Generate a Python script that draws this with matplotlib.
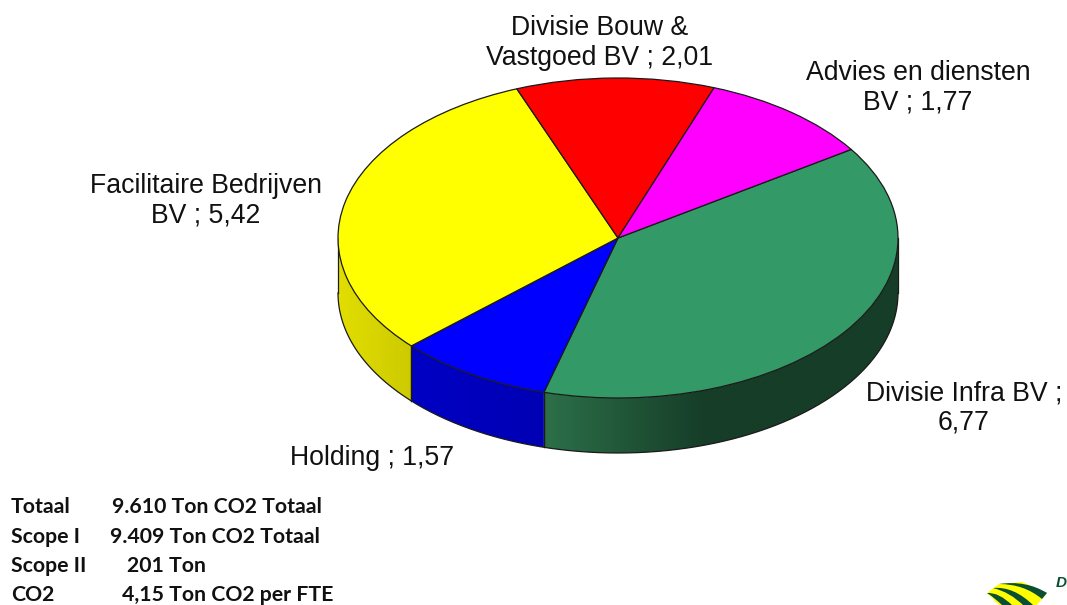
import numpy as np
import matplotlib
matplotlib.use("Agg")
import matplotlib.pyplot as plt
from matplotlib.patches import Polygon, PathPatch
from matplotlib.path import Path

W, H = 1067, 605
CX, CY, RX, RY, DEPTH = 618, 238, 280, 160, 55

names = ["Divisie Infra BV", "Holding", "Facilitaire Bedrijven",
         "Divisie Bouw & Vastgoed BV", "Advies en diensten BV"]
values = [6.77, 1.57, 5.42, 2.01, 1.77]
top_colors = ["#339966", "#0000ff", "#ffff00", "#ff0000", "#ff00ff"]
wall_left = ["#2c7049", "#0000c4", "#e2de00", "#a00000", "#a000a0"]
wall_right = ["#163d28", "#0000b4", "#cdca00", "#a00000", "#a000a0"]
wall_ramp = [0.45, 1.0, 1.0, 1.0, 1.0]
start_angle = 33.6

labels = [("Divisie Infra BV ;\n6,77", 964, 408),
          ("Holding ; 1,57", 372, 458),
          ("Facilitaire Bedrijven\nBV ; 5,42", 206, 201),
          ("Divisie Bouw &\nVastgoed BV ; 2,01", 600, 43),
          ("Advies en diensten\nBV ; 1,77", 918, 88)]

summary_rows = [("Totaal", "9.610 Ton CO2 Totaal", 112),
                ("Scope I", "9.409 Ton CO2 Totaal", 110),
                ("Scope II", "201 Ton", 127),
                ("CO2", "4,15 Ton CO2 per FTE", 122)]
summary_y = [507, 537, 566, 595]


def px(x):
    return (np.asarray(x, float) - CX) / RX


def py(y):
    return (CY - np.asarray(y, float)) / RY


plt.rcParams["font.family"] = ["Liberation Sans", "DejaVu Sans"]
fig = plt.figure(figsize=(W / 100, H / 100), dpi=100, facecolor="white")
ax = fig.add_axes([0, 0, 1, 1])

# Top face of the disc, flattened into an ellipse by the free aspect ratio
ax.pie(values, colors=top_colors, startangle=start_angle, counterclock=False,
       radius=1, center=(0, 0),
       wedgeprops=dict(edgecolor="#1a1a1a", linewidth=0.9, zorder=5))

# Side wall: each visible wedge gets a horizontal gradient clipped to its strip
depth = DEPTH / RY
fractions = np.array(values) / sum(values)
edges = start_angle - np.concatenate([[0], np.cumsum(fractions) * 360])
rim = np.radians(np.linspace(180, 360, 361))

for a0, a1, c0, c1, ramp in zip(edges[:-1], edges[1:], wall_left, wall_right, wall_ramp):
    hi, lo = a0 % 360, a1 % 360
    if hi <= lo:
        hi += 360
    lo_v, hi_v = max(lo, 180), min(hi, 360)
    if lo_v >= hi_v:
        continue
    theta = np.radians(np.linspace(lo_v, hi_v, 200))
    upper = np.c_[np.cos(theta), np.sin(theta)]
    lower = np.c_[np.cos(theta), np.sin(theta) - depth][::-1]
    outline = Polygon(np.r_[upper, lower], closed=True, facecolor="none",
                      edgecolor="none", transform=ax.transData)
    ax.add_patch(outline)
    x0, x1 = upper[:, 0].min(), upper[:, 0].max()
    y0, y1 = lower[:, 1].min(), upper[:, 1].max()
    mix = np.clip(np.linspace(0, 1, 256) / ramp, 0, 1)[:, None]
    rgb0 = np.array(matplotlib.colors.to_rgb(c0))
    rgb1 = np.array(matplotlib.colors.to_rgb(c1))
    gradient = (rgb0 + (rgb1 - rgb0) * mix)[None, :, :]
    img = ax.imshow(gradient, extent=(x0, x1, y0, y1), origin="lower",
                    aspect="auto", interpolation="bilinear", zorder=2)
    img.set_clip_path(outline)
    # dividing line down the wall where a wedge ends
    for ang in (lo, hi % 360):
        if 180 < ang < 360:
            t = np.radians(ang)
            ax.plot([np.cos(t)] * 2, [np.sin(t), np.sin(t) - depth],
                    color="#1a1a1a", lw=0.9, zorder=3)

ax.plot(np.cos(rim), np.sin(rim) - depth, color="#1a1a1a", lw=0.9, zorder=3)
ax.plot([-1, -1], [0, -depth], color="#1a1a1a", lw=0.9, zorder=3)
ax.plot([1, 1], [0, -depth], color="#1a1a1a", lw=0.9, zorder=3)

ax.set_aspect("auto")
ax.set_xlim(px(0), px(W))
ax.set_ylim(py(H), py(0))
ax.axis("off")

for text, x, y in labels:
    ax.text(px(x), py(y), text, ha="center", va="center", fontsize=19.2,
            color="#111111", linespacing=1.18, zorder=6)

for (head, body, x), y in zip(summary_rows, summary_y):
    ax.text(px(11), py(y), head, ha="left", va="center", fontsize=15.3,
            fontweight="bold", family="Lato", color="#111111")
    ax.text(px(x), py(y), body, ha="left", va="center", fontsize=15.3,
            fontweight="bold", family="Lato", color="#111111")

# Company mark in the lower right corner, cut off by the page edge
GREEN = "#0b4f33"
YELLOW = "#ffff00"


def crescent(a, ctrl_out, b, c, ctrl_back):
    pts = [a, ctrl_out, b, c, ctrl_back, a]
    codes = [Path.MOVETO, Path.CURVE3, Path.CURVE3, Path.LINETO, Path.CURVE3, Path.CURVE3]
    return Path(np.c_[px([p[0] for p in pts]), py([p[1] for p in pts])], codes)


base = [(987, 593), (999, 584), (1022, 582), (1047, 593), (1036, 606), (1000, 606)]
ax.add_patch(Polygon(np.c_[px([p[0] for p in base]), py([p[1] for p in base])],
                     facecolor=YELLOW, edgecolor="none", zorder=6))
bands = [crescent((999, 584), (1026, 580), (1047, 593), (1042, 599), (1024, 584)),
         crescent((993, 588), (1014, 586), (1034, 606), (1024, 606), (1010, 592)),
         crescent((987, 593), (999, 592), (1013, 606), (1003, 606), (995, 598))]
for band in bands:
    ax.add_patch(PathPatch(band, facecolor=GREEN, edgecolor="none", zorder=7))
ax.text(px(1056), py(583), "D", ha="left", va="center", fontsize=11,
        fontweight="bold", style="italic", color=GREEN, zorder=7)

fig.savefig("out.png", dpi=100, facecolor="white")
